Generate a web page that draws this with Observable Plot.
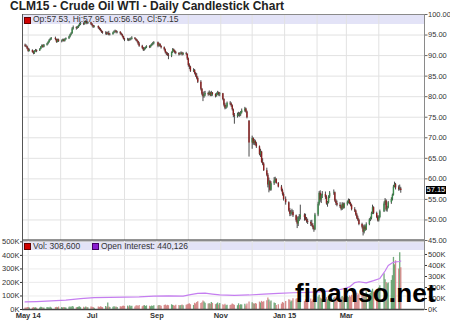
<!DOCTYPE html>
<html><head><meta charset="utf-8">
<script src="https://cdn.jsdelivr.net/npm/d3@7"></script>
<script src="https://cdn.jsdelivr.net/npm/@observablehq/plot@0.6"></script>
<style>
body{margin:0;background:#fff;}
#wrap{position:relative;width:450px;height:323px;overflow:hidden;font-family:"Liberation Sans",Arial,sans-serif;background:#fff;}
.abs{position:absolute;}
#title{left:10px;top:-1.5px;font-weight:bold;font-size:12px;color:#222;white-space:nowrap;z-index:5;}
.band{background:#e3e3f7;left:22px;width:402px;height:9px;z-index:0;}
.sq{width:5px;height:5px;border:0.5px solid #600;z-index:5;}
.leg{font-size:8.5px;line-height:10px;color:#333;white-space:nowrap;z-index:5;}
#last{background:#000;color:#fff;font-size:7.5px;line-height:8px;padding:0 1px;z-index:6;}
#wm{font-weight:bold;font-size:26px;color:#000;z-index:7;white-space:nowrap;letter-spacing:0.2px;}
svg{position:absolute;left:0;z-index:2;}
</style></head>
<body><div id="wrap"></div>
<script>
// ---- data ----
const holidays = ["2014-05-26","2014-07-04","2014-09-01","2014-11-27","2014-12-25","2015-01-01","2015-01-19","2015-02-16","2015-04-03"];
// daily candles: "open high low close" per trading day
const ohlcApr14 = "92.5 92.8 92.0 92.3; 92.3 92.6 91.9 92.1; 92.1 92.3 91.4 91.6";
const ohlcMay14 = "91.6 91.8 90.8 91.0; 91.0 91.6 90.9 91.3; 91.2 91.4 90.6 90.8; 90.9 91.1 90.2 90.5; 90.5 91.2 90.3 91.0; 91.0 91.5 90.8 91.2; 91.2 91.4 90.7 91.0; 91.1 91.7 91.0 91.5; 91.5 92.2 91.4 92.0; 92.0 92.6 91.8 92.4; 92.4 92.6 91.8 92.0; 92.0 92.7 91.9 92.5; 92.5 93.0 92.3 92.8; 92.8 93.4 92.6 93.2; 93.2 93.9 93.0 93.7; 93.7 94.2 93.5 94.0; 94.0 94.4 93.7 94.2; 94.2 94.5 93.6 93.9; 93.9 94.0 93.0 93.2; 93.2 94.0 93.1 93.8; 93.8 94.0 93.2 93.4";
const ohlcJun14 = "93.4 93.8 93.1 93.5; 93.5 94.0 93.3 93.8; 93.8 94.0 93.3 93.5; 93.5 94.1 93.3 93.9; 93.9 94.3 93.7 94.1; 94.1 94.7 93.9 94.5; 94.5 95.2 94.3 95.0; 95.0 95.6 94.8 95.3; 95.3 96.8 95.2 96.5; 96.5 97.2 96.2 96.8; 96.8 97.0 96.2 96.6; 96.6 97.1 96.4 96.9; 96.9 97.4 96.6 97.2; 97.2 97.9 97.0 97.6; 97.6 98.1 97.3 97.8; 97.8 98.0 97.3 97.6; 97.6 98.1 97.4 97.9; 97.9 98.5 97.7 98.2; 98.2 98.3 97.5 97.8; 97.8 98.2 97.6 98.0; 98.0 98.1 97.3 97.6";
const ohlcJul14 = "97.6 97.8 97.0 97.3; 97.3 97.4 96.6 96.9; 96.9 97.3 96.7 97.1; 97.1 97.2 96.4 96.7; 96.7 96.9 96.1 96.4; 96.4 96.6 95.8 96.0; 96.0 96.2 95.4 95.7; 95.7 95.9 95.2 95.5; 95.5 95.8 95.0 95.5; 95.5 95.7 94.9 95.2; 95.2 95.7 95.0 95.4; 95.4 95.9 94.8 95.0; 95.0 95.4 94.8 95.1; 95.1 95.7 95.0 95.5; 95.5 96.0 95.3 95.8; 95.8 96.2 95.5 95.9; 95.9 96.1 95.3 95.6; 95.6 95.9 95.3 95.7; 95.7 95.8 95.0 95.3; 95.3 95.5 94.8 95.0; 95.0 95.2 94.3 94.6; 94.6 94.7 93.8 94.0";
const ohlcAug14 = "94.0 94.2 93.4 93.8; 93.8 94.2 93.5 93.9; 93.9 94.1 93.4 93.7; 93.7 94.2 93.5 93.9; 93.9 94.3 93.6 94.0; 94.0 94.6 93.8 94.2; 94.2 94.4 93.8 94.0; 94.0 94.1 93.4 93.7; 93.7 93.9 93.1 93.4; 93.4 93.5 92.5 92.8; 92.8 93.2 92.0 92.3; 92.3 92.5 91.5 91.8; 91.8 92.0 91.0 91.3; 91.3 91.9 91.1 91.6; 91.6 92.1 91.4 91.9; 91.9 92.4 91.7 92.2; 92.2 92.4 91.7 92.0; 92.0 92.6 91.8 92.4; 92.4 92.9 92.2 92.7; 92.7 93.2 92.4 92.9; 92.9 93.4 92.6 93.1";
const ohlcSep14 = "93.1 93.3 91.9 92.3; 92.3 93.0 92.1 92.7; 92.7 92.9 92.0 92.2; 92.2 92.4 91.6 91.9; 91.9 92.1 91.1 91.4; 91.4 91.6 90.4 90.7; 90.7 90.9 90.0 90.4; 90.4 90.7 89.8 90.1; 90.1 90.5 89.0 89.9; 89.9 90.9 89.5 90.7; 90.7 91.7 90.5 91.4; 91.4 91.6 90.8 91.1; 91.1 91.3 90.4 90.7; 90.7 91.0 90.2 90.5; 90.5 90.7 89.9 90.2; 90.2 90.7 90.0 90.4; 90.4 90.9 90.2 90.6; 90.6 90.8 89.9 90.2; 90.2 90.7 90.0 90.5; 90.5 90.8 90.0 90.3; 90.3 90.4 88.8 89.2";
const ohlcOct14 = "89.2 89.4 87.2 87.6; 87.6 88.0 86.6 87.2; 87.2 87.4 85.9 86.2; 86.2 86.8 85.9 86.4; 86.4 86.6 85.3 85.6; 85.6 85.9 84.7 85.0; 85.0 85.6 84.1 84.4; 84.4 84.8 83.2 83.5; 83.5 83.9 81.4 81.8; 81.8 82.0 80.2 80.6; 80.6 81.0 78.8 80.0; 80.0 81.2 79.6 80.4; 80.4 81.3 80.0 80.8; 80.8 81.1 80.1 80.5; 80.5 81.4 80.3 80.9; 80.9 81.1 80.0 80.2; 80.2 81.3 80.0 80.9; 80.9 81.0 80.1 80.5; 80.5 80.7 79.7 80.1; 80.1 80.9 79.9 80.6; 80.6 81.3 80.3 80.9; 80.9 81.1 80.1 80.5; 80.5 81.0 80.0 80.7";
const ohlcNov14 = "80.7 80.8 79.0 79.3; 79.3 79.5 77.5 77.9; 77.9 78.4 76.8 77.2; 77.2 77.9 76.9 77.5; 77.5 78.7 77.2 78.4; 78.4 78.8 77.8 78.2; 78.2 78.5 77.4 77.8; 77.8 78.0 76.5 76.8; 76.8 77.0 74.9 75.4; 75.4 75.9 73.3 75.2; 75.2 76.0 74.8 75.5; 75.5 76.2 75.1 75.8; 75.8 76.1 75.0 75.6; 75.6 76.4 75.2 76.1; 76.1 77.0 75.8 76.5; 76.5 77.4 76.2 77.0; 77.0 77.2 76.0 76.3; 76.3 76.5 74.6 74.9; 74.0 74.2 65.3 68.7";
const ohlcDec14 = "68.7 70.4 67.2 69.8; 69.8 70.0 68.2 68.6; 68.6 69.6 68.1 69.1; 69.1 69.4 68.0 68.5; 68.5 68.9 67.4 67.8; 67.8 68.0 65.6 65.9; 65.9 67.2 65.2 66.5; 66.5 66.7 63.8 64.0; 64.0 64.9 63.2 63.6; 63.6 63.9 61.8 62.0; 62.0 62.6 60.5 60.9; 60.9 61.3 57.8 58.5; 58.5 60.2 56.6 59.3; 59.3 59.6 57.0 57.2; 57.2 59.3 57.0 58.8; 58.8 60.3 58.4 59.5; 59.5 60.4 59.0 59.9; 59.9 60.0 58.7 58.9; 58.9 59.1 57.8 58.0; 58.0 58.4 56.8 57.1; 57.1 57.5 55.8 56.2; 56.2 56.6 54.6 55.0";
const ohlcJan15 = "55.0 55.6 53.6 54.2; 54.2 54.4 51.9 52.2; 52.2 52.8 50.8 51.4; 51.4 52.3 50.9 51.7; 51.7 52.6 51.2 51.9; 51.9 52.3 50.6 51.0; 51.0 51.2 49.4 49.8; 49.8 50.7 47.9 49.0; 49.0 50.8 48.4 50.3; 50.3 51.3 49.6 50.6; 50.6 53.6 50.0 51.2; 51.2 51.5 49.7 50.6; 50.6 51.4 49.8 50.0; 50.0 50.6 49.2 49.6; 49.6 50.2 48.9 49.4; 49.4 49.8 48.4 49.0; 49.0 49.9 48.3 48.6; 48.6 49.1 47.6 48.1; 48.1 48.5 47.0 47.6; 47.6 51.6 47.4 51.2";
const ohlcFeb15 = "51.2 54.3 50.8 53.8; 53.8 56.9 53.4 56.5; 56.5 57.1 54.3 54.8; 54.8 56.3 54.0 55.9; 55.9 56.9 55.2 56.2; 56.2 56.8 55.0 55.5; 55.5 55.9 53.6 53.9; 53.9 54.5 53.1 54.2; 54.2 55.9 53.9 55.6; 55.6 56.9 55.2 56.5; 56.5 57.3 56.0 56.6; 56.6 56.8 54.3 54.6; 54.6 55.0 53.5 54.0; 54.0 54.6 53.2 53.6; 53.6 54.2 52.8 53.2; 53.2 53.5 52.2 52.6; 52.6 54.2 52.3 53.8; 53.8 54.1 52.6 52.9; 52.9 54.1 52.7 53.8";
const ohlcMar15 = "53.8 54.6 53.4 54.3; 54.3 55.1 53.9 54.7; 54.7 55.0 53.7 54.0; 54.0 54.3 53.2 53.5; 53.5 53.8 52.2 52.5; 52.5 53.0 51.8 52.2; 52.2 52.4 50.9 51.2; 51.2 51.6 50.1 50.4; 50.4 50.9 49.6 49.9; 49.9 50.2 48.6 48.9; 48.9 49.2 47.8 48.2; 48.2 48.6 46.1 47.0; 47.0 48.8 46.6 48.3; 48.3 48.6 47.2 47.6; 47.6 49.3 47.4 48.9; 48.9 50.3 48.6 50.0; 50.0 50.7 49.6 50.3; 50.3 51.9 50.0 51.5; 51.5 53.6 51.3 53.0; 53.0 53.2 51.3 51.6; 51.6 51.9 50.3 50.6; 50.6 51.0 49.5 49.8";
const ohlcApr15 = "49.8 51.0 49.5 50.6; 50.6 52.4 50.3 52.0; 52.0 54.4 51.8 53.9; 53.9 55.2 53.5 54.6; 54.6 54.9 52.0 52.4; 52.4 53.3 51.9 52.9; 52.9 54.5 52.7 54.2; 54.2 55.4 53.8 55.0; 55.0 56.3 54.6 56.0; 56.0 58.4 55.8 58.0; 58.0 59.2 57.8 58.6; 58.6 58.9 57.3 57.8; 57.8 58.3 57.0 57.4; 57.4 58.5 57.1 57.6; 57.53 57.95 56.50 57.15";
// daily volume, thousands of contracts
const volApr14 = "12 10 14";
const volMay14 = "15 12 10 14 11 13 9 12 16 14 10 12 15 13 11 17 12 14 16 13 18";
const volJun14 = "14 12 15 13 11 16 18 14 22 19 13 15 17 20 14 16 12 18 15 13 19";
const volJul14 = "16 14 10 18 15 20 17 14 22 16 48 18 15 17 20 16 19 14 21 18 23 25";
const volAug14 = "22 25 18 27 20 24 19 26 28 23 30 21 25 29 22 27 24 20 26 23 28";
const volSep14 = "25 30 27 24 29 33 26 31 28 35 30 27 24 32 29 26 30 33 28 31 36";
const volOct14 = "38 42 35 30 46 40 52 58 44 50 62 55 47 40 43 38 52 45 36 41 48 33 44";
const volNov14 = "35 30 38 27 32 29 34 40 36 31 28 42 30 36 33 38 26 41 55";
const volDec14 = "50 42 38 45 40 55 48 60 52 58 65 85 70 55 62 48 44 30 35 40 52 46";
const volJan15 = "60 72 68 55 62 80 75 82 70 65 58 60 72 66 64 78 60 70 75 88";
const volFeb15 = "92 105 85 78 70 74 88 72 95 80 84 90 76 70 82 88 96 85 90";
const volMar15 = "95 88 100 92 105 98 110 120 102 115 125 140 118 105 130 112 120 135 150 128 140 145";
const volApr15 = "160 175 265 220 200 190 195 215 250 385 330 360 300 420 308.6";
// open interest, thousands
const oiDates = ["2014-04-28","2014-05-09","2014-05-23","2014-06-06","2014-06-20","2014-07-03","2014-07-18","2014-08-01","2014-08-15","2014-08-29","2014-09-12","2014-09-26","2014-10-03","2014-10-10","2014-10-17","2014-10-24","2014-10-31","2014-11-14","2014-11-28","2014-12-12","2014-12-26","2015-01-09","2015-01-23","2015-02-06","2015-02-20","2015-02-27","2015-03-04","2015-03-09","2015-03-13","2015-03-20","2015-03-27","2015-04-02","2015-04-07","2015-04-10","2015-04-14","2015-04-17","2015-04-21","2015-04-22"];
const oiValues = [69,72,78,85,98,108,110,112,115,122,124,122,135,146,148,140,133,128,132,140,146,152,155,163,175,190,205,245,252,242,262,282,350,400,425,433,436,440.126];
// axis ticks / labels
const priceTicks = [45,50,55,60,65,70,75,80,85,90,95,100];
const volTicksK = [0,100,200,300,400,500];
const oiTicksK = [0,100,200,300,400,500];
const monthTicks = ["2014-05-01","2014-06-01","2014-07-01","2014-08-01","2014-09-01","2014-10-01","2014-11-01","2014-12-01","2015-01-01","2015-02-01","2015-03-01","2015-04-01"];
const labelDates = ["2014-05-01","2014-07-01","2014-09-01","2014-11-01","2015-01-01","2015-03-01"];
const labelTexts = ["May 14","Jul","Sep","Nov","Jan 15","Mar"];
const lastBar = {open:57.53, high:57.95, low:56.50, close:57.15, vol:308600, oi:440126};

// ---- build ----
const parse = d3.utcParse("%Y-%m-%d");
const fmt = d3.utcFormat("%Y-%m-%d");
const days = d3.utcDays(parse("2014-04-28"), parse("2015-04-23"))
  .filter(d => d.getUTCDay() % 6 !== 0 && !holidays.includes(fmt(d)));
const rows = [ohlcApr14,ohlcMay14,ohlcJun14,ohlcJul14,ohlcAug14,ohlcSep14,ohlcOct14,ohlcNov14,ohlcDec14,ohlcJan15,ohlcFeb15,ohlcMar15,ohlcApr15]
  .flatMap(s => s.split(";").map(t => t.trim().split(/\s+/).map(Number)));
const vols = [volApr14,volMay14,volJun14,volJul14,volAug14,volSep14,volOct14,volNov14,volDec14,volJan15,volFeb15,volMar15,volApr15]
  .flatMap(s => s.trim().split(/\s+/).map(Number));
const n = Math.min(days.length, rows.length, vols.length);
if (days.length !== rows.length || rows.length !== vols.length) console.error("length mismatch", days.length, rows.length, vols.length);
const data = d3.range(n).map(i => ({date: days[i], open: rows[i][0], high: rows[i][1], low: rows[i][2], close: rows[i][3], vol: vols[i]*1000}));
const oi = oiDates.map((d,i) => ({date: parse(d), v: oiValues[i]*1000}));

const xDomain = [new Date(Date.UTC(2014,3,25,13)), new Date(Date.UTC(2015,4,14,16))];
const months = monthTicks.map(parse);
const up = d => d.close >= d.open;
const font = "Liberation Sans, Arial, sans-serif";

const price = Plot.plot({
  width: 450, height: 250, marginLeft: 22, marginRight: 26, marginTop: 14, marginBottom: 10,
  style: {background: "transparent", fontFamily: font, fontSize: "7px", color: "#333"},
  x: {type: "utc", domain: xDomain, axis: null, label: null},
  y: {domain: [45, 100], label: null},
  marks: [
    Plot.ruleX(months, {stroke: "#e2e2e2", strokeWidth: 1}),
    Plot.ruleY(priceTicks, {stroke: "#e2e2e2", strokeWidth: 1}),
    Plot.ruleX(data, {x: "date", y1: "low", y2: "high", stroke: "#1c1c1c", strokeWidth: 0.8}),
    Plot.ruleX(data, {x: "date", y1: "open", y2: "close", stroke: d => up(d) ? "#3a8a4a" : "#8c2020", strokeWidth: 1.4}),
    Plot.axisY(priceTicks, {anchor: "right", label: null, tickSize: 2.5, tickPadding: 1, tickFormat: d => d.toFixed(2), fontSize: 7.5, stroke: "#666"}),
    Plot.frame({stroke: "#8a8a8a"}),
    Plot.ruleY([45], {stroke: "#2a2a2a", strokeWidth: 2}),
    Plot.ruleX([xDomain[0]], {stroke: "#555"})
  ]
});

const k = 510 / 627; // open interest plotted on its own right-hand scale
const volume = Plot.plot({
  width: 450, height: 93, marginLeft: 22, marginRight: 26, marginTop: 10, marginBottom: 14,
  style: {background: "transparent", fontFamily: font, fontSize: "7.5px", color: "#333"},
  x: {type: "utc", domain: xDomain, label: null},
  y: {domain: [0, 510000], label: null},
  marks: [
    Plot.ruleX(months, {stroke: "#e2e2e2", strokeWidth: 1}),
    Plot.ruleY(volTicksK.map(v => v*1000), {stroke: "#ececec", strokeWidth: 1}),
    Plot.ruleX(data, {x: "date", y: "vol", stroke: d => up(d) ? "#62a06c" : "#d27e7e", strokeWidth: 1.3, strokeOpacity: 0.9}),
    Plot.line(oi, {x: "date", y: d => d.v * k, stroke: "#c57ef0", strokeWidth: 1.2}),
    Plot.axisY(volTicksK.map(v => v*1000), {anchor: "left", label: null, tickSize: 2, tickPadding: 1, tickFormat: d => d/1000 + "K", fontSize: 7.5}),
    Plot.axisY(oiTicksK.map(v => v*1000*k), {anchor: "right", label: null, tickSize: 2, tickPadding: 1.5, tickFormat: d => Math.round(d/k/1000) + "K", fontSize: 7.5}),
    Plot.axisX(labelDates.map(parse), {anchor: "bottom", label: null, tickSize: 0, tickPadding: 3, tickFormat: d => labelTexts[labelDates.indexOf(fmt(d))], fontSize: 7.5, fontWeight: "bold", fill: "#333"}),
    Plot.frame({stroke: "#8a8a8a"}),
    Plot.ruleY([0], {stroke: "#444", strokeWidth: 1.5}),
    Plot.ruleX([xDomain[0]], {stroke: "#555"})
  ]
});

const wrap = document.getElementById("wrap");
function div(cls, css, html) { const e = document.createElement("div"); e.className = "abs " + cls; e.style.cssText = css; if (html != null) e.innerHTML = html; wrap.appendChild(e); return e; }
div("band", "top:14.5px;");
div("band", "top:241px;");
price.style.top = "0px"; wrap.appendChild(price);
volume.style.top = "230px"; wrap.appendChild(volume);
const t = div("", "", "CLM15 - Crude Oil WTI - Daily Candlestick Chart"); t.id = "title";
div("sq", "left:24px;top:16.5px;background:#d00000;");
div("leg", "left:33px;top:14px;", `Op:${lastBar.open.toFixed(2)}, Hi:${lastBar.high.toFixed(2)}, Lo:${lastBar.low.toFixed(2)}, Cl:${lastBar.close.toFixed(2)}`);
div("sq", "left:24px;top:243px;background:#d00000;");
div("leg", "left:33px;top:240.5px;", `Vol: ${d3.format(",")(lastBar.vol)}`);
div("sq", "left:92px;top:243px;background:#8a1ed0;border-color:#406;");
div("leg", "left:101px;top:240.5px;", `Open Interest: ${d3.format(",")(lastBar.oi)}`);
const yl = price.scale("y").apply(lastBar.close);
const l = div("", `left:425.5px;top:${yl - 4}px;`, lastBar.close.toFixed(2)); l.id = "last";
const w = div("", "left:295px;top:278px;", "finanso.net"); w.id = "wm";
</script></body></html>
